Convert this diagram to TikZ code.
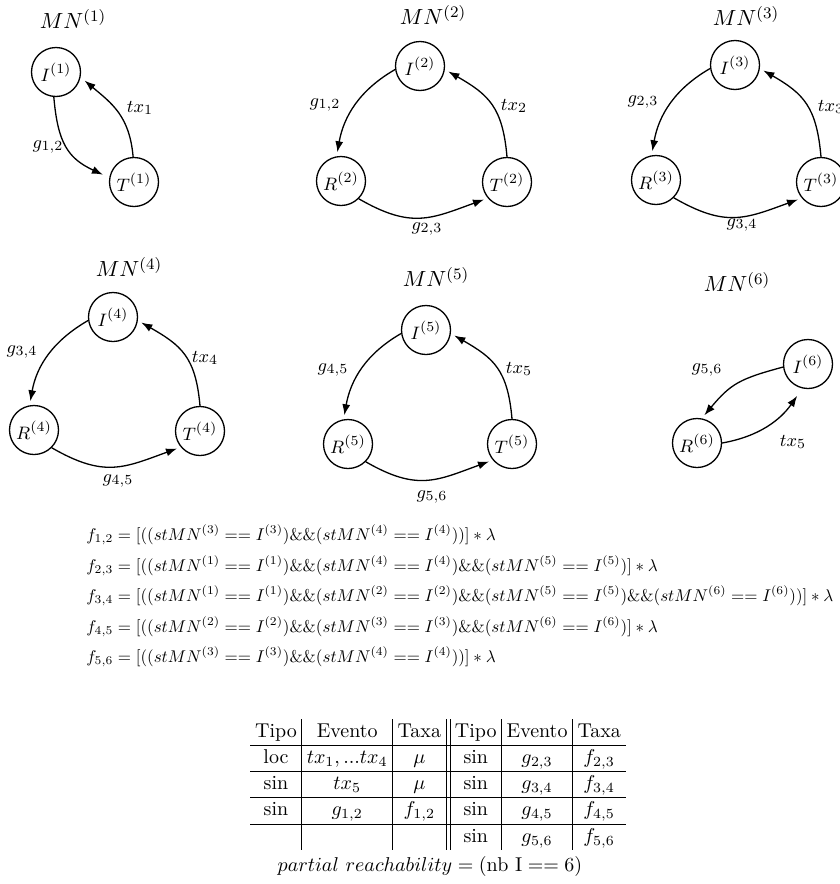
\documentclass[tikz,border=0pt]{standalone}
\usepackage{amsmath}
\usetikzlibrary{arrows.meta}
\newcommand{\rateline}[1]{\scalebox{0.85}{$#1$}}
\begin{document}
\begin{tikzpicture}[x=0.5pt,y=0.5pt,
  state/.style={circle,draw,line width=0.65pt,minimum size=24.5pt,inner sep=0pt,font=\fontsize{9.5}{11}\selectfont},
  trans/.style={line width=0.65pt,-{Latex[length=5.5pt,width=4pt]},shorten >=2pt},
  lbl/.style={font=\fontsize{9.5}{11}\selectfont,inner sep=0pt},
  ttl/.style={font=\fontsize{11}{13}\selectfont,inner sep=0pt},
  eqn/.style={anchor=west,inner sep=0pt,font=\fontsize{10}{12}\selectfont}]

\useasboundingbox (0,0) rectangle (840,-884);
\clip (0,0) rectangle (840,-884);

% module 1
\node[ttl] (t1) at (73,-19) {$MN^{(1)}$};
\node[state] (I1) at (56,-72) {$I^{(1)}$};
\node[state] (T1) at (134,-182) {$T^{(1)}$};
\draw[trans,shorten >=3.5pt] (I1.265) to[out=-85,in=155,looseness=1.2] (T1.170);
\draw[trans,shorten >=2.6pt] (T1.92) to[out=95,in=-40,looseness=1.1] (I1.-12);
\node[lbl] (l1a) at (48,-147) {$g_{1,2}$};
\node[lbl] (l1b) at (140,-108) {$tx_1$};

% module 2
\node[ttl] (t2) at (433,-15) {$MN^{(2)}$};
\node[state] (I2) at (420,-66) {$I^{(2)}$};
\node[state] (R2) at (341,-181) {$R^{(2)}$};
\node[state] (T2) at (507,-182) {$T^{(2)}$};
\draw[trans] (I2.188) to[out=-150,in=80] (R2.100);
\draw[trans] (T2.90) to[out=95,in=-30,looseness=1.2] (I2.-8);
\draw[trans] (R2.-45) to[out=-30,in=200,looseness=1.2] (T2.-140);
\node[lbl] (l2a) at (325,-105) {$g_{1,2}$};
\node[lbl] (l2b) at (514,-106) {$tx_2$};
\node[lbl] (l2c) at (427,-229) {$g_{2,3}$};

% module 3
\node[ttl] (t3) at (746,-16) {$MN^{(3)}$};
\node[state] (I3) at (735,-65) {$I^{(3)}$};
\node[state] (R3) at (656,-180) {$R^{(3)}$};
\node[state] (T3) at (821,-182) {$T^{(3)}$};
\draw[trans] (I3.188) to[out=-150,in=80] (R3.100);
\draw[trans] (T3.90) to[out=95,in=-30,looseness=1.2] (I3.-8);
\draw[trans] (R3.-45) to[out=-30,in=200,looseness=1.2] (T3.-140);
\node[lbl] (l3a) at (643,-102) {$g_{2,3}$};
\node[lbl] (l3b) at (831,-107) {$tx_3$};
\node[lbl] (l3c) at (742,-225) {$g_{3,4}$};

% module 4
\node[ttl] (t4) at (129,-267) {$MN^{(4)}$};
\node[state] (I4) at (113,-317) {$I^{(4)}$};
\node[state] (R4) at (34,-430) {$R^{(4)}$};
\node[state] (T4) at (200,-431) {$T^{(4)}$};
\draw[trans] (I4.188) to[out=-150,in=80] (R4.100);
\draw[trans] (T4.90) to[out=95,in=-30,looseness=1.2] (I4.-8);
\draw[trans] (R4.-45) to[out=-30,in=200,looseness=1.2] (T4.-140);
\node[lbl] (l4a) at (22,-352) {$g_{3,4}$};
\node[lbl] (l4b) at (205,-358) {$tx_4$};
\node[lbl] (l4c) at (118,-481) {$g_{4,5}$};

% module 5
\node[ttl] (t5) at (436,-277) {$MN^{(5)}$};
\node[state] (I5) at (426,-330) {$I^{(5)}$};
\node[state] (R5) at (348,-444) {$R^{(5)}$};
\node[state] (T5) at (512,-444) {$T^{(5)}$};
\draw[trans] (I5.188) to[out=-150,in=80] (R5.100);
\draw[trans] (T5.90) to[out=95,in=-30,looseness=1.2] (I5.-8);
\draw[trans] (R5.-45) to[out=-30,in=200,looseness=1.2] (T5.-140);
\node[lbl] (l5a) at (333,-370) {$g_{4,5}$};
\node[lbl] (l5b) at (519,-369) {$tx_5$};
\node[lbl] (l5c) at (432,-497) {$g_{5,6}$};

% module 6
\node[ttl] (t6) at (737,-282) {$MN^{(6)}$};
\node[state] (I6) at (808,-364) {$I^{(6)}$};
\node[state] (R6) at (697,-443) {$R^{(6)}$};
\draw[trans] (I6.187) to[out=195,in=50,looseness=1.2] (R6.79);
\draw[trans,shorten >=4.5pt] (R6.0) to[out=10,in=235] (I6.-103);
\node[lbl] (l6a) at (707,-370) {$g_{5,6}$};
\node[lbl] (l6b) at (793,-442) {$tx_5$};

% synchronisation rates
\node[eqn] (f12) at (86,-535) {\rateline{f_{1,2} = [((stMN^{(3)} == I^{(3)})\&\&(stMN^{(4)} == I^{(4)}))] * \lambda}};
\node[eqn] (f23) at (86,-566) {\rateline{f_{2,3} = [((stMN^{(1)} == I^{(1)})\&\&(stMN^{(4)} == I^{(4)})\&\&(stMN^{(5)} == I^{(5)})] * \lambda}};
\node[eqn] (f34) at (86,-596) {\rateline{f_{3,4} = [((stMN^{(1)} == I^{(1)})\&\&(stMN^{(2)} == I^{(2)})\&\&(stMN^{(5)} == I^{(5)})\&\&(stMN^{(6)} == I^{(6)}))] * \lambda}};
\node[eqn] (f45) at (86,-627) {\rateline{f_{4,5} = [((stMN^{(2)} == I^{(2)})\&\&(stMN^{(3)} == I^{(3)})\&\&(stMN^{(6)} == I^{(6)})] * \lambda}};
\node[eqn] (f56) at (86,-657) {\rateline{f_{5,6} = [((stMN^{(3)} == I^{(3)})\&\&(stMN^{(4)} == I^{(4)}))] * \lambda}};

% event table
\node[inner sep=0pt,anchor=north] (tab) at (438,-719) {%
  \setlength{\tabcolsep}{2.5pt}\renewcommand{\arraystretch}{1.06}%
  \begin{tabular}{c|c|c||c|c|c}
  Tipo & Evento & Taxa & Tipo & Evento & Taxa\\ \hline
  loc & $tx_1,...tx_4$ & $\mu$ & sin & $g_{2,3}$ & $f_{2,3}$\\ \hline
  sin & $tx_5$ & $\mu$ & sin & $g_{3,4}$ & $f_{3,4}$\\ \hline
  sin & $g_{1,2}$ & $f_{1,2}$ & sin & $g_{4,5}$ & $f_{4,5}$\\ \hline
   & & & sin & $g_{5,6}$ & $f_{5,6}$
  \end{tabular}};
\node[inner sep=0pt] (reach) at (430,-866) {$partial\ reachability = (\mathrm{nb\ I} == 6)$};
\end{tikzpicture}
\end{document}
